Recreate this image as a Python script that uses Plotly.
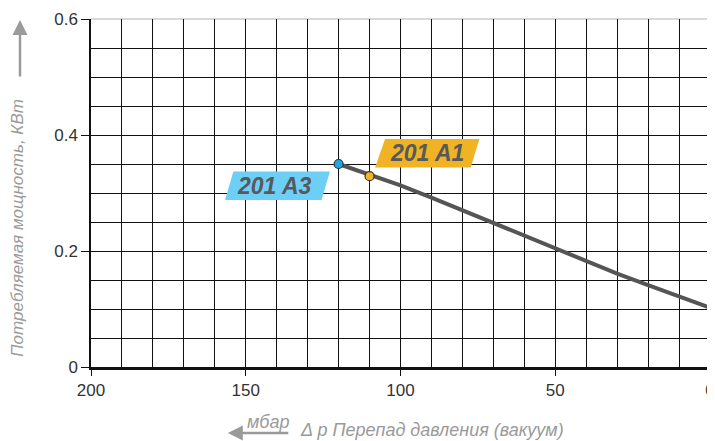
import plotly.graph_objects as go

# Data
pressure_mbar = [120, 110, 100, 90, 80, 70, 60, 50, 40, 30, 20, 10, 0]
power_kw = [0.350, 0.331, 0.313, 0.292, 0.270, 0.249, 0.227, 0.204, 0.182, 0.161, 0.141, 0.121, 0.102]
model_names = ["201 A3", "201 A1"]
model_x = [120, 110]
model_y = [0.350, 0.329]
model_colors = ["#1ea7e1", "#f0b323"]
label_colors = ["#6dcff6", "#f0b323"]
x_ticks = [200, 150, 100, 50, 0]
y_ticks = [0, 0.2, 0.4, 0.6]
y_tick_text = ["0", "0.2", "0.4", "0.6"]

FONT = "Liberation Sans"
GRAY = "#9a9a9a"

fig = go.Figure()

fig.add_trace(go.Scatter(
    x=pressure_mbar, y=power_kw, mode="lines",
    line=dict(color="#555555", width=4),
    hoverinfo="skip", showlegend=False,
))

fig.add_trace(go.Scatter(
    x=model_x, y=model_y, mode="markers",
    marker=dict(color=model_colors, size=9, line=dict(color="#333333", width=1.2)),
    showlegend=False,
))


def para(x0, x1, x2, x3, y0, y1):
    # bottom-left, top-left, top-right, bottom-right
    return f"M {x0} {y0} L {x1} {y1} L {x2} {y1} L {x3} {y0} Z"


shapes = [
    dict(type="path", xref="x", yref="y", path=para(156.7, 154.0, 122.8, 125.5, 0.288, 0.337),
         fillcolor=label_colors[0], line=dict(width=0), layer="above"),
    dict(type="path", xref="x", yref="y", path=para(108.2, 105.0, 74.5, 77.3, 0.344, 0.393),
         fillcolor=label_colors[1], line=dict(width=0), layer="above"),
    dict(type="line", xref="paper", yref="paper", x0=0, x1=1, y0=1, y1=1,
         line=dict(color="#cccccc", width=1.5), layer="below"),
    dict(type="line", xref="paper", yref="paper", x0=1, x1=1, y0=0, y1=1,
         line=dict(color="#cccccc", width=1.5), layer="below"),
]

fig.add_annotation(x=140.6, y=0.3125, xref="x", yref="y", text="<b><i>" + model_names[0] + "</i></b>",
                   showarrow=False, font=dict(family=FONT, size=23, color="#58595b"))
fig.add_annotation(x=91.6, y=0.3685, xref="x", yref="y", text="<b><i>" + model_names[1] + "</i></b>",
                   showarrow=False, font=dict(family=FONT, size=23, color="#58595b"))

# y title and arrow
fig.add_annotation(x=-0.118, y=0.40, xref="paper", yref="paper", text="<i>Потребляемая мощность, КВт</i>",
                   textangle=-90, showarrow=False, xanchor="center", yanchor="middle",
                   font=dict(family=FONT, size=17, color=GRAY))
fig.add_annotation(x=-0.1147, y=0.997, xref="paper", yref="paper", ax=0, ay=58,
                   text="", showarrow=True, arrowhead=2, arrowsize=1.2, arrowwidth=2.5, arrowcolor=GRAY)

# x titles and arrow
fig.add_annotation(x=0.286, y=-0.158, xref="paper", yref="paper", text="<i>мбар</i>", showarrow=False,
                   xanchor="center", yanchor="middle", font=dict(family=FONT, size=18, color=GRAY))
fig.add_annotation(x=0.334, y=-0.18, xref="paper", yref="paper", text="<i>Δ p Перепад давления (вакуум)</i>",
                   showarrow=False, xanchor="left", yanchor="middle",
                   font=dict(family=FONT, size=18, color=GRAY))
fig.add_annotation(x=0.221, y=-0.19, xref="paper", yref="paper", ax=62, ay=0,
                   text="", showarrow=True, arrowhead=2, arrowsize=1.2, arrowwidth=2.5, arrowcolor=GRAY)

fig.update_layout(
    width=707, height=433,
    margin=dict(l=83, r=5, t=11, b=74),
    paper_bgcolor="white", plot_bgcolor="white",
    shapes=shapes,
    xaxis=dict(
        range=[200, 0], tickvals=x_ticks, ticktext=[str(v) for v in x_ticks],
        automargin=False,
        showgrid=True, gridcolor="#111111", gridwidth=1.3,
        minor=dict(dtick=10, showgrid=True, gridcolor="#111111", gridwidth=1.3),
        ticks="outside", ticklen=6, tickcolor="#111111", tickwidth=1.3,
        showline=True, linecolor="#111111", linewidth=2.5,
        zeroline=False,
        tickfont=dict(family=FONT, size=17, color="#333333"),
    ),
    yaxis=dict(
        range=[0, 0.6], tickvals=y_ticks, ticktext=y_tick_text,
        automargin=False,
        showgrid=True, gridcolor="#111111", gridwidth=1.3,
        minor=dict(dtick=0.05, showgrid=True, gridcolor="#111111", gridwidth=1.3),
        ticks="outside", ticklen=8, tickcolor="#111111", tickwidth=1.3,
        showline=True, linecolor="#111111", linewidth=1.5,
        zeroline=False,
        tickfont=dict(family=FONT, size=17, color="#333333"),
    ),
)

fig.write_html("out.html")
